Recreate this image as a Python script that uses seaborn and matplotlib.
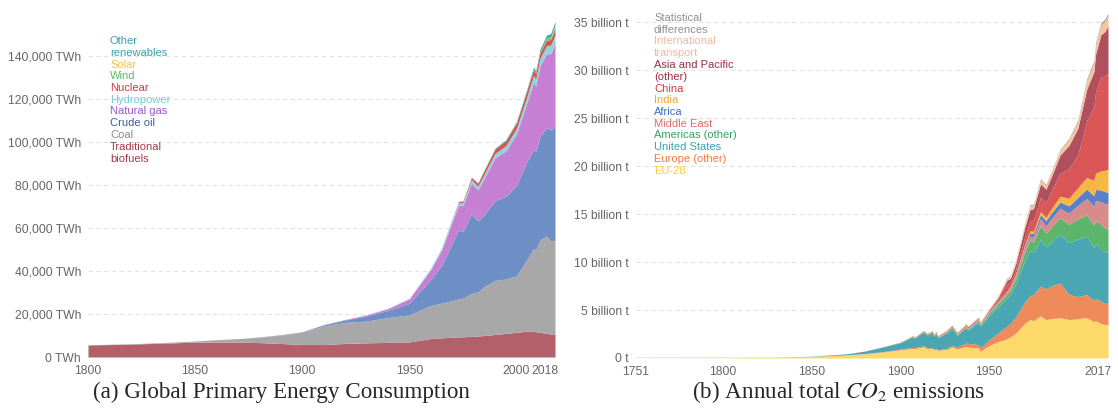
import numpy as np
import pandas as pd
import matplotlib
matplotlib.use("Agg")
import matplotlib.pyplot as plt
import matplotlib.transforms as mtransforms
import seaborn as sns

# ---- (a) global primary energy consumption, TWh ----
years_e = [1800, 1810, 1820, 1830, 1840, 1850, 1860, 1870, 1880, 1890, 1900, 1910,
           1920, 1930, 1940, 1950, 1960, 1965, 1970, 1973, 1975, 1979, 1982, 1985,
           1990, 1995, 2000, 2005, 2008, 2009, 2011, 2014, 2016, 2018]
biofuels = [5600, 5800, 6000, 6300, 6600, 6900, 7000, 6900, 6700, 6300, 5800, 5800,
            6300, 6600, 6800, 7000, 8600, 8900, 9200, 9300, 9400, 9600, 9800, 10000,
            10500, 11000, 11500, 12000, 11900, 11800, 11500, 11000, 10700, 10400]
coal = [97, 128, 153, 264, 356, 569, 1061, 1642, 2542, 3856, 5728, 8656,
        9833, 10125, 11586, 12603, 15442, 16140, 17000, 17800, 18000, 20000, 20500, 22800,
        25200, 25300, 26300, 33500, 38500, 38000, 43000, 45300, 43500, 43900]
crude_oil = [0, 0, 0, 0, 0, 0, 0, 6, 96, 210, 181, 500,
             1100, 2300, 3300, 5400, 12000, 17500, 26700, 32000, 31000, 37000, 33000, 33500,
             37000, 38600, 42000, 45700, 46500, 45800, 48000, 50500, 51500, 52970]
natural_gas = [0, 0, 0, 0, 0, 0, 0, 0, 0, 0, 64, 160,
               230, 550, 850, 2100, 4700, 7000, 10000, 11500, 12000, 14300, 14500, 17000,
               20000, 21000, 24000, 27500, 31000, 30500, 33000, 34300, 35500, 38489]
hydropower = [0, 0, 0, 0, 0, 0, 0, 0, 0, 0, 0, 33,
              64, 128, 192, 332, 688, 1000, 1200, 1350, 1450, 1650, 1750, 1900,
              2100, 2400, 2600, 2900, 3200, 3250, 3500, 3850, 4000, 4193]
nuclear = [0, 0, 0, 0, 0, 0, 0, 0, 0, 0, 0, 0,
           0, 0, 0, 0, 0, 70, 200, 400, 600, 1000, 1300, 1700,
           2000, 2300, 2500, 2700, 2700, 2600, 2600, 2500, 2600, 2701]
wind = [0, 0, 0, 0, 0, 0, 0, 0, 0, 0, 0, 0,
        0, 0, 0, 0, 0, 0, 0, 0, 0, 0, 0, 0,
        4, 8, 30, 100, 220, 270, 430, 700, 960, 1270]
solar = [0, 0, 0, 0, 0, 0, 0, 0, 0, 0, 0, 0,
         0, 0, 0, 0, 0, 0, 0, 0, 0, 0, 0, 0,
         0, 1, 2, 4, 12, 20, 65, 190, 330, 584]
other_renewables = [0, 0, 0, 0, 0, 0, 0, 0, 0, 0, 0, 0,
                    0, 0, 0, 0, 0, 60, 100, 130, 150, 200, 220, 280,
                    400, 500, 600, 800, 1000, 1050, 1200, 1400, 1500, 1614]

energy_names = ["Traditional\nbiofuels", "Coal", "Crude oil", "Natural gas", "Hydropower",
                "Nuclear", "Wind", "Solar", "Other\nrenewables"]
energy_fill = ["#b4606a", "#a8a8a8", "#6d8fc6", "#c67fd2", "#8ed4e0",
               "#d9534f", "#6fbf73", "#f8c846", "#3aa6b3"]
energy_text = ["#a53a48", "#8a8a8a", "#3b5ba5", "#9d55c4", "#72cde0",
               "#c73c36", "#5db86a", "#f5c24a", "#3b9fb3"]

# ---- (b) annual total CO2 emissions, billion t ----
years_c = [1751, 1800, 1830, 1850, 1870, 1880, 1890, 1900, 1907, 1908, 1913, 1915,
           1918, 1919, 1920, 1921, 1926, 1929, 1932, 1937, 1938, 1944, 1945, 1950,
           1955, 1960, 1962, 1965, 1970, 1973, 1975, 1979, 1982, 1985, 1990, 1995,
           2000, 2005, 2009, 2010, 2013, 2015, 2017]
eu28 = [0.009, 0.028, 0.06, 0.17, 0.33, 0.45, 0.62, 0.85, 1.0, 0.98, 1.15, 0.98,
        1.0, 0.85, 0.95, 0.8, 0.9, 1.15, 0.95, 1.2, 1.15, 1.05, 0.7, 1.3,
        1.7, 2.0, 2.2, 2.6, 3.6, 4.0, 3.9, 4.4, 4.0, 4.1, 4.2, 4.0,
        4.1, 4.2, 3.8, 3.9, 3.6, 3.5, 3.5]
europe_other = [0, 0, 0.001, 0.005, 0.01, 0.02, 0.04, 0.08, 0.1, 0.1, 0.14, 0.12,
                0.06, 0.04, 0.04, 0.05, 0.1, 0.15, 0.22, 0.35, 0.38, 0.35, 0.35, 0.6,
                0.9, 1.3, 1.4, 1.7, 2.2, 2.5, 2.7, 3.1, 3.2, 3.4, 3.6, 2.6,
                2.3, 2.4, 2.2, 2.3, 2.3, 2.2, 2.2]
united_states = [0, 0.0, 0.002, 0.02, 0.1, 0.25, 0.48, 0.66, 1.12, 0.98, 1.4, 1.3,
                 1.6, 1.35, 1.6, 1.25, 1.6, 1.8, 1.2, 1.6, 1.35, 2.35, 2.25, 2.5,
                 2.7, 2.9, 3.0, 3.4, 4.3, 4.7, 4.4, 4.9, 4.4, 4.6, 5.1, 5.4,
                 6.0, 6.1, 5.5, 5.7, 5.5, 5.4, 5.3]
americas_other = [0, 0, 0, 0.001, 0.003, 0.005, 0.01, 0.02, 0.03, 0.03, 0.05, 0.04,
                  0.05, 0.05, 0.06, 0.05, 0.07, 0.09, 0.07, 0.1, 0.1, 0.13, 0.14, 0.22,
                  0.3, 0.4, 0.45, 0.55, 0.9, 1.05, 1.1, 1.4, 1.4, 1.5, 1.7, 1.9,
                  2.1, 2.2, 2.3, 2.4, 2.5, 2.5, 2.4]
middle_east = [0, 0, 0, 0, 0, 0, 0, 0, 0, 0, 0, 0,
               0, 0, 0, 0, 0, 0, 0, 0.01, 0.01, 0.02, 0.02, 0.04,
               0.06, 0.1, 0.12, 0.18, 0.3, 0.45, 0.5, 0.7, 0.75, 0.9, 1.0, 1.2,
               1.4, 1.7, 2.0, 2.1, 2.4, 2.5, 2.6]
africa = [0, 0, 0, 0, 0, 0, 0, 0.01, 0.01, 0.01, 0.02, 0.02,
          0.02, 0.02, 0.03, 0.03, 0.04, 0.05, 0.04, 0.06, 0.06, 0.08, 0.08, 0.1,
          0.12, 0.14, 0.15, 0.2, 0.27, 0.33, 0.36, 0.45, 0.55, 0.6, 0.65, 0.75,
          0.85, 1.0, 1.1, 1.15, 1.2, 1.25, 1.25]
india = [0, 0, 0, 0, 0.002, 0.005, 0.01, 0.02, 0.03, 0.03, 0.04, 0.04,
         0.04, 0.04, 0.04, 0.04, 0.05, 0.05, 0.05, 0.06, 0.06, 0.07, 0.07, 0.07,
         0.09, 0.12, 0.14, 0.16, 0.2, 0.22, 0.25, 0.3, 0.38, 0.45, 0.6, 0.8,
         1.0, 1.2, 1.6, 1.7, 2.0, 2.2, 2.4]
china = [0, 0, 0, 0, 0, 0, 0, 0, 0.005, 0.005, 0.01, 0.01,
         0.01, 0.01, 0.02, 0.02, 0.02, 0.03, 0.03, 0.04, 0.04, 0.05, 0.03, 0.08,
         0.2, 0.78, 0.44, 0.5, 0.8, 1.0, 1.15, 1.5, 1.5, 1.8, 2.4, 3.1,
         3.4, 5.9, 7.7, 8.5, 9.8, 9.8, 10.0]
asia_pacific_other = [0, 0, 0, 0, 0.001, 0.002, 0.01, 0.02, 0.03, 0.03, 0.05, 0.05,
                      0.05, 0.05, 0.05, 0.05, 0.07, 0.08, 0.08, 0.1, 0.1, 0.1, 0.05, 0.12,
                      0.2, 0.35, 0.4, 0.55, 0.95, 1.2, 1.2, 1.4, 1.4, 1.5, 1.9, 2.4,
                      2.8, 3.3, 3.6, 3.9, 4.4, 4.6, 4.9]
intl_transport = [0, 0, 0, 0, 0, 0, 0, 0, 0.02, 0.02, 0.05, 0.04,
                  0.04, 0.04, 0.05, 0.05, 0.06, 0.07, 0.06, 0.08, 0.08, 0.1, 0.08, 0.12,
                  0.16, 0.2, 0.22, 0.27, 0.35, 0.4, 0.4, 0.45, 0.4, 0.42, 0.5, 0.6,
                  0.7, 0.9, 0.95, 1.0, 1.05, 1.1, 1.15]
stat_diff = [0, 0, 0, 0, 0, 0, 0, 0, 0, 0, 0, 0,
             0, 0, 0, 0, 0, 0, 0, 0, 0, 0, 0, 0,
             0.02, 0.05, 0.05, 0.07, 0.1, 0.1, 0.1, 0.1, 0.1, 0.1, 0.1, 0.12,
             0.15, 0.18, 0.2, 0.2, 0.2, 0.2, 0.2]

co2_names = ["EU-28", "Europe (other)", "United States", "Americas (other)", "Middle East",
             "Africa", "India", "China", "Asia and Pacific\n(other)",
             "International\ntransport", "Statistical\ndifferences"]
co2_fill = ["#fdd86a", "#ef8a5a", "#4ba6b4", "#5bb56b", "#d98a8a",
            "#5a7fcb", "#f6b843", "#db5656", "#b0505e", "#f5c5a0", "#a0a0a0"]
co2_text = ["#f6cc40", "#ef7a45", "#3a9fb5", "#3aa05a", "#e06a6a",
            "#3b6cc4", "#f0a830", "#d43b3b", "#9b2d45", "#f7b89a", "#909090"]

sns.set_theme(style="white")
plt.rcParams['font.family'] = ['Liberation Sans', 'DejaVu Sans']
plt.rcParams['mathtext.fontset'] = 'stix'

W, H = 1118, 412
fig = plt.figure(figsize=(W / 100, H / 100), dpi=100)

energy = pd.DataFrame({"year": years_e, "bio": biofuels, "coal": coal, "oil": crude_oil,
                       "gas": natural_gas, "hydro": hydropower, "nuc": nuclear,
                       "wind": wind, "solar": solar, "other": other_renewables})
co2 = pd.DataFrame({"year": years_c, "eu": eu28, "eur": europe_other, "us": united_states,
                    "am": americas_other, "me": middle_east, "af": africa, "ind": india,
                    "chn": china, "asia": asia_pacific_other, "tr": intl_transport,
                    "sd": stat_diff})

ax1 = fig.add_axes([88 / W, (H - 357) / H, (555 - 88) / W, 348 / H])
ax2 = fig.add_axes([636 / W, (H - 358) / H, (1108 - 636) / W, 350 / H])

ax1.stackplot(energy["year"], energy.drop(columns="year").T.values,
              colors=energy_fill, linewidth=0)
ax1.set_xlim(1800, 2018)
ax1.set_ylim(0, 162000)
ax1.set_yticks(np.arange(0, 140001, 20000))
ax1.set_yticklabels([f"{v:,} TWh" for v in range(0, 140001, 20000)])
ax1.set_xticks([1800, 1850, 1900, 1950, 2000, 2018])

ax2.stackplot(co2["year"], co2.drop(columns="year").T.values,
              colors=co2_fill, linewidth=0)
ax2.set_xlim(1751, 2017)
ax2.set_ylim(0, 36.46)
ax2.set_yticks(np.arange(0, 36, 5))
ax2.set_yticklabels(["0 t"] + [f"{v} billion t" for v in range(5, 36, 5)])
ax2.set_xticks([1751, 1800, 1850, 1900, 1950, 2017])
ax2.axhline(0, color="#9a9a9a", lw=1, zorder=0)

nudge = mtransforms.ScaledTranslation(4 / 100, 0, fig.dpi_scale_trans)
for ax in (ax1, ax2):
    sns.despine(ax=ax, left=True, bottom=True)
    ax.yaxis.grid(True, color="#e2e2e2", ls=(0, (4, 3)), lw=0.8)
    ax.set_axisbelow(True)
    ax.tick_params(axis="y", length=0, labelsize=8.7, labelcolor="#666666", pad=5)
    ax.tick_params(axis="x", length=0, labelsize=8.7, labelcolor="#666666", pad=6)
    last = ax.get_xticklabels()[-1]
    last.set_ha("right")
    last.set_transform(last.get_transform() + nudge)
    ax.set_facecolor("none")

# legends drawn as coloured text, top entry first
def text_legend(x, y0, names, colors, step=11.75):
    y = y0
    for name, col in zip(names[::-1], colors[::-1]):
        for line in name.split("\n"):
            fig.text(x / W, 1 - y / H, line, color=col, fontsize=8,
                     ha="left", va="center")
            y += step

text_legend(110, 41, energy_names, energy_text)
text_legend(654, 18, co2_names, co2_text)

cap_font = ['Liberation Serif', 'DejaVu Serif']
fig.text(281 / W, 1 - 392 / H, "(a) Global Primary Energy Consumption",
         ha="center", va="center", fontsize=16.7, family=cap_font)
fig.text(838 / W, 1 - 392 / H, r"(b) Annual total $CO_2$ emissions",
         ha="center", va="center", fontsize=16.7, family=cap_font)

fig.savefig("out.png", dpi=100)
